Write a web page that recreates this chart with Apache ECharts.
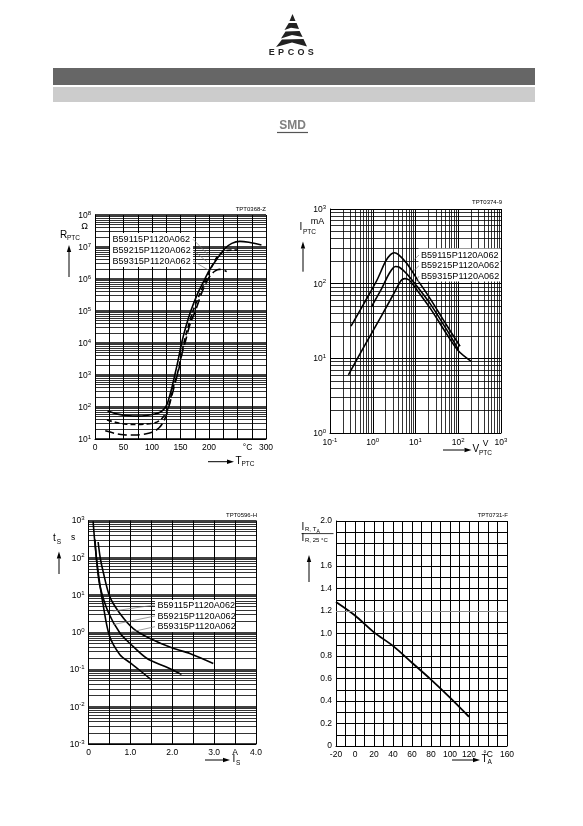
<!DOCTYPE html>
<html>
<head>
<meta charset="utf-8">
<script src="https://cdn.jsdelivr.net/npm/echarts@6/dist/echarts.min.js"></script>
<style>
  html, body { margin: 0; padding: 0; background: #fff; }
  #page { width: 583px; height: 826px; }
</style>
</head>
<body>
<div id="page"></div>
<script>
const FONT = '"Liberation Sans", Arial, Helvetica, sans-serif'

// part numbers shown in the label boxes
const partNames = ['B59115P1120A062', 'B59215P1120A062', 'B59315P1120A062']

// R_PTC (Ω) over T_PTC (°C)
const rptcSolid = [[22, 75], [40, 60], [60, 53], [75, 52], [90, 54], [105, 60], [115, 70], [122, 90], [127, 130], [133, 300], [140, 1000], [146, 3000], [152, 1e4], [160, 3.5e4], [168, 1e5], [180, 3.5e5], [190, 8e5], [200, 1.8e6], [213, 4e6], [228, 9e6], [240, 1.3e7], [254, 1.5e7], [270, 1.4e7], [292, 1.15e7]]
const rptcDash = [[21, 39], [40, 32], [55, 29], [70, 28.5], [90, 29.5], [105, 32], [115, 40], [122, 55], [127, 80], [131, 140], [137, 400], [144, 1000], [150, 3000], [156, 1e4], [164, 3.5e4], [172, 1e5], [184, 3.5e5], [195, 1e6], [205, 2.5e6], [215, 5e6], [228, 7.5e6], [240, 8e6], [251, 8e6]]
const rptcLongDash = [[18, 18], [35, 15], [50, 13.5], [60, 13.3], [75, 13.5], [90, 14.5], [103, 17], [112, 22], [119, 32], [125, 55], [130, 110], [134, 200], [141, 600], [147, 1500], [153, 5000], [159, 1.2e4], [167, 4e4], [176, 1e5], [188, 4e5], [197, 9e5], [204, 1.4e6], [211, 1.8e6], [218, 2e6], [225, 1.9e6], [231, 1.7e6]]
const rptcTempLabels = [0, 50, 100, 150, 200, 300]
const rptcUnitTemp = 250

// I_PTC (mA) over V_PTC (V)
const ivTop = [[0.31, 27], [0.63, 55], [1.26, 112], [2.0, 200], [2.6, 245], [3.2, 260], [4.0, 245], [6.3, 186], [10.7, 117], [22, 63], [54, 27.5], [110, 14.5]]
const ivMid = [[0.93, 49], [1.6, 85], [2.5, 141], [3.4, 170], [4.2, 166], [6.3, 135], [10.7, 93], [22, 54], [54, 24], [100, 13.2]]
const ivLow = [[0.27, 6.0], [0.63, 14.5], [1.6, 37], [3.2, 76], [4.6, 110], [5.6, 117], [7.1, 112], [10.7, 83], [22, 47], [54, 21], [100, 12.6], [200, 9.1]]

// t_S (s) over I_S (A)
const tsLeft = [[0.11, 950], [0.16, 200], [0.23, 42], [0.35, 5.4], [0.5, 0.8], [0.75, 0.25], [1.0, 0.15], [1.2, 0.1], [1.49, 0.054]]
const tsMid = [[0.155, 310], [0.2, 70], [0.27, 18], [0.47, 3.5], [0.75, 0.95], [0.99, 0.5], [1.39, 0.2], [1.83, 0.12], [2.22, 0.074]]
const tsRight = [[0.23, 265], [0.28, 100], [0.35, 42], [0.51, 8.9], [0.75, 3.2], [1.07, 1.26], [1.47, 0.68], [2.02, 0.37], [2.42, 0.27], [2.98, 0.145]]
const isLabelAmps = [0, 1, 2, 3, 4]
const isUnitAmp = 3.5

// I_R,TA / I_R,25°C over T_A (°C)
const taTemps = [-20, 0, 20, 40, 60, 80, 100, 120]
const irRatio = [1.28, 1.16, 1.01, 0.89, 0.74, 0.59, 0.43, 0.26]
const taLabelTemps = [-20, 0, 20, 40, 60, 80, 100, 120, 160]
const taUnitTemp = 140
const irLabelTenths = [0, 2, 4, 6, 8, 10, 12, 14, 16, 20]

// log paper: lines at 2..9 of every decade
function logMinors(fromExp, toExp) {
  const out = []
  for (let e = fromExp; e < toExp; e++) {
    for (let k = 2; k <= 9; k++) out.push(+(k * Math.pow(10, e)).toPrecision(3))
  }
  return out
}

const labelRich = {
  b: { fontSize: 8.5, fontFamily: FONT, color: '#000', lineHeight: 10, verticalAlign: 'bottom' },
  s: { fontSize: 6, fontFamily: FONT, color: '#000', lineHeight: 6, verticalAlign: 'top' },
  u: { fontSize: 8.5, fontFamily: FONT, color: '#000' },
  uc: { fontSize: 8.5, fontFamily: FONT, color: '#000', padding: [0, 0, 0, 20] }
}
function pow10Label(v) {
  return '{b|10}{s|' + Math.round(Math.log10(v)) + '}'
}

function makeAxis(opt, labelFn, decadeWidth) {
  return Object.assign({
    axisLine: { show: true, onZero: false, lineStyle: { color: '#000', width: 1 } },
    axisTick: { show: false },
    splitLine: { show: true, lineStyle: { color: '#000', width: decadeWidth || 1 } },
    axisLabel: { color: '#000', fontFamily: FONT, fontSize: 8.5, margin: 4, rich: labelRich, formatter: labelFn }
  }, opt)
}

// markLine rounds to 'precision', keep it high so 0.002 etc. survive
function gridMarks(data, color) {
  return {
    silent: true,
    symbol: ['none', 'none'],
    precision: 8,
    label: { show: false },
    emphasis: { disabled: true },
    animation: false,
    lineStyle: { color: color || '#000', width: 0.8, type: 'solid' },
    data: data
  }
}

function curve(name, data, grid, dash, width, marks) {
  return {
    name: name,
    type: 'line',
    xAxisIndex: grid,
    yAxisIndex: grid,
    data: data,
    showSymbol: false,
    smooth: 0.3,
    silent: true,
    z: 3,
    lineStyle: { color: '#000', width: width || 1.5, type: dash || 'solid' },
    markLine: marks
  }
}

const chart = echarts.init(document.getElementById('page'), null, { renderer: 'canvas' })

const option = {
  animation: false,
  backgroundColor: '#fff',
  grid: [
    { left: 95, top: 215, width: 171, height: 224 },
    { left: 330, top: 209, width: 171, height: 224 },
    { left: 88.5, top: 520.5, width: 167.5, height: 223.5 },
    { left: 336, top: 521, width: 171, height: 225 }
  ],
  xAxis: [
    makeAxis({ type: 'value', gridIndex: 0, min: 0, max: 300, interval: 25 }, function (v) {
      if (v === rptcUnitTemp) return '{uc|°C}'
      return rptcTempLabels.indexOf(v) >= 0 ? '{u|' + v + '}' : ''
    }),
    makeAxis({ type: 'log', logBase: 10, gridIndex: 1, min: 0.1, max: 1000 }, pow10Label),
    makeAxis({ type: 'value', gridIndex: 2, min: 0, max: 4, interval: 0.5 }, function (v) {
      if (Math.abs(v - isUnitAmp) < 1e-6) return 'A'
      const a = Math.round(v * 2) / 2
      if (isLabelAmps.indexOf(a) < 0) return ''
      return a === 0 ? '0' : a.toFixed(1)
    }),
    makeAxis({ type: 'value', gridIndex: 3, min: -20, max: 160, interval: 10 }, function (v) {
      if (v === taUnitTemp) return '°C'
      return taLabelTemps.indexOf(v) >= 0 ? String(v) : ''
    })
  ],
  yAxis: [
    makeAxis({ type: 'log', logBase: 10, gridIndex: 0, min: 10, max: 1e8 }, pow10Label, 1.6),
    makeAxis({ type: 'log', logBase: 10, gridIndex: 1, min: 1, max: 1000 }, pow10Label, 1.2),
    makeAxis({ type: 'log', logBase: 10, gridIndex: 2, min: 0.001, max: 1000 }, pow10Label, 1.6),
    makeAxis({ type: 'value', gridIndex: 3, min: 0, max: 2, interval: 0.1 }, function (v) {
      const t = Math.round(v * 10)
      if (irLabelTenths.indexOf(t) < 0) return ''
      return t === 0 ? '0' : (t / 10).toFixed(1)
    })
  ],
  series: [
    curve(partNames[0], rptcSolid, 0, 'solid', 1.6, gridMarks(logMinors(1, 8).map(v => ({ yAxis: v })))),
    curve(partNames[1], rptcDash, 0, [5, 3], 1.6),
    curve(partNames[2], rptcLongDash, 0, [9, 4], 1.6),
    curve(partNames[0], ivTop, 1, 'solid', 1.6, gridMarks(
      logMinors(-1, 3).map(v => ({ xAxis: v })).concat(logMinors(0, 3).map(v => ({ yAxis: v })))
    )),
    curve(partNames[1], ivMid, 1, 'solid', 1.6),
    curve(partNames[2], ivLow, 1, 'solid', 1.6),
    curve(partNames[0], tsRight, 2, 'solid', 1.6, gridMarks(logMinors(-3, 3).map(v => ({ yAxis: v })))),
    curve(partNames[1], tsMid, 2, 'solid', 1.6),
    curve(partNames[2], tsLeft, 2, 'solid', 1.6),
    curve('ratio', taTemps.map((t, i) => [t, irRatio[i]]), 3, 'solid', 1.8,
      gridMarks([{ yAxis: 1.2 }], '#aaa'))
  ]
}

chart.setOption(option)

// ---- page furniture and annotations
function text(x, y, str, size, opt) {
  return {
    type: 'text', x: x, y: y, z: 101,
    style: Object.assign({
      text: str, fill: '#000', fontSize: size, fontFamily: FONT,
      align: 'left', verticalAlign: 'middle'
    }, opt || {})
  }
}
function seg(x1, y1, x2, y2, color, w) {
  return {
    type: 'line', z: 100,
    shape: { x1: x1, y1: y1, x2: x2, y2: y2 },
    style: { stroke: color || '#000', lineWidth: w || 1 }
  }
}
function arrow(x1, y1, x2, y2) {
  const dx = x2 - x1, dy = y2 - y1
  const len = Math.sqrt(dx * dx + dy * dy)
  const ux = dx / len, uy = dy / len
  const bx = x2 - ux * 7, by = y2 - uy * 7
  return [
    seg(x1, y1, bx, by, '#000', 1),
    {
      type: 'polygon', z: 100,
      shape: { points: [[x2, y2], [bx - uy * 2.2, by + ux * 2.2], [bx + uy * 2.2, by - ux * 2.2]] },
      style: { fill: '#000' }
    }
  ]
}
function px(grid, pt) {
  return chart.convertToPixel({ gridIndex: grid }, pt)
}
function labelBox(x, y, w, h, rows, leaders, fromX) {
  const out = [{ type: 'rect', z: 100, shape: { x: x, y: y, width: w, height: h }, style: { fill: '#fff' } }]
  rows.forEach((ry, i) => {
    out.push(text(x + 2.5, ry, partNames[i], 9.1))
    const p = leaders[i]
    out.push(seg(fromX, ry, p[0], p[1], '#777', 0.7))
  })
  return out
}

let g = []

// header: logo, bars, SMD
g.push({ type: 'polygon', z: 100, shape: { points: [[292.5, 14], [295.5, 21], [289.5, 21]] }, style: { fill: '#222' } })
g.push({ type: 'polygon', z: 100, shape: { points: [[288.8, 23], [296.6, 23], [299, 29], [291, 27.8], [284.5, 30]] }, style: { fill: '#222' } })
g.push({ type: 'polygon', z: 100, shape: { points: [[285.5, 31.5], [299.6, 31], [302.6, 37], [292, 35], [281, 38.5]] }, style: { fill: '#222' } })
g.push({ type: 'polygon', z: 100, shape: { points: [[282, 39.5], [303.5, 39], [307, 46.5], [292, 42.5], [276, 47]] }, style: { fill: '#222' } })
const logoLetters = ['E', 'P', 'C', 'O', 'S']
const logoX = [271.7, 281, 291, 301, 310.7]
logoLetters.forEach((c, i) => g.push(text(logoX[i], 53, c, 9, { align: 'center', fontWeight: 'bold', fill: '#222' })))
g.push({ type: 'rect', z: 100, shape: { x: 53, y: 68, width: 482, height: 17 }, style: { fill: '#666' } })
g.push({ type: 'rect', z: 100, shape: { x: 53, y: 87, width: 482, height: 15 }, style: { fill: '#ccc' } })
g.push(text(292.5, 126, 'SMD', 12, { align: 'center', fontWeight: 'bold', fill: '#808080' }))
g.push(seg(277, 132.5, 308, 132.5, '#555', 1.2))

// drawing codes
g.push(text(266, 209, 'TPT0368-Z', 6, { align: 'right' }))
g.push(text(502, 202, 'TPT0374-9', 6, { align: 'right' }))
g.push(text(257, 515, 'TPT0596-H', 6, { align: 'right' }))
g.push(text(508, 515.5, 'TPT0731-F', 6, { align: 'right' }))

// chart 1 titles
g.push(text(84.5, 227, 'Ω', 9, { align: 'center' }))
g.push(text(60, 235.5, 'R', 10))
g.push(text(67, 238.5, 'PTC', 6.5))
g = g.concat(arrow(69, 277, 69, 245))
g = g.concat(arrow(208, 461.7, 234, 461.7))
g.push(text(235.5, 461.5, 'T', 10))
g.push(text(241.5, 464.5, 'PTC', 6.5))

// chart 2 titles
g.push(text(317.5, 222, 'mA', 9, { align: 'center' }))
g.push(text(299.5, 227.5, 'I', 10))
g.push(text(303, 232, 'PTC', 6.5))
g = g.concat(arrow(303, 271.7, 303, 241.5))
g.push(text(485.5, 443.5, 'V', 8.5, { align: 'center' }))
g = g.concat(arrow(443, 450, 471.5, 450))
g.push(text(472.5, 449.5, 'V', 10))
g.push(text(479, 453, 'PTC', 6.5))

// chart 3 titles
g.push(text(73, 537.5, 's', 8.5, { align: 'center' }))
g.push(text(53, 538.5, 't', 10))
g.push(text(56.8, 542, 'S', 6.5))
g = g.concat(arrow(59, 574, 59, 551.5))
g = g.concat(arrow(205, 760, 230, 760))
g.push(text(232.5, 759.5, 'I', 10))
g.push(text(236, 763, 'S', 6.5))

// chart 4 titles
g.push(text(301.5, 527, 'I', 10))
g.push(text(305, 529.8, 'R, T', 6))
g.push(text(316.5, 532, 'A', 5))
g.push(seg(301.5, 533.6, 333.5, 533.6, '#000', 0.8))
g.push(text(301.5, 538, 'I', 10))
g.push(text(305, 540.5, 'R, 25 °C', 6))
g = g.concat(arrow(309, 582, 309, 555))
g = g.concat(arrow(452, 760, 480, 760))
g.push(text(481.5, 759, 'T', 10))
g.push(text(487.5, 762.5, 'A', 6.5))

// label boxes with leader lines to the curves
g = g.concat(labelBox(110, 233, 83, 34, [239.3, 250, 261],
  [px(0, [202, 5e6]), px(0, [196, 3.5e6]), px(0, [199, 1.9e6])], 193))
g = g.concat(labelBox(418.5, 248.5, 82, 33, [255, 265.7, 276.2],
  [px(1, [9.1, 208]), px(1, [9.1, 149]), px(1, [10, 106])], 419))
g = g.concat(labelBox(155, 600, 80, 32, [605, 616, 626.7],
  [px(2, [0.58, 3.7]), px(2, [0.58, 1.6]), px(2, [1.02, 1.02])], 155))

chart.setOption({ graphic: { elements: g } })
</script>
</body>
</html>
